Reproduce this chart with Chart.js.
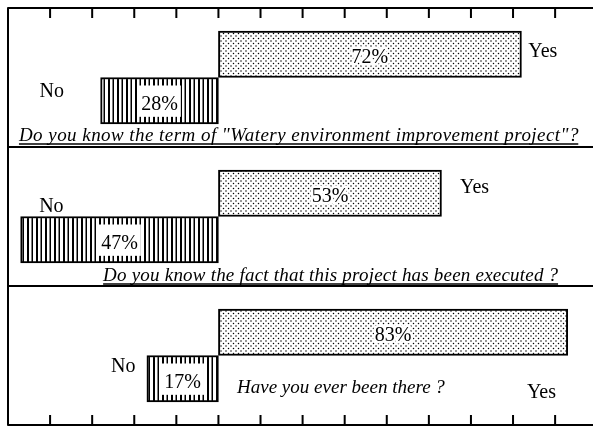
<!DOCTYPE html>
<html>
<head>
<meta charset="utf-8">
<script src="https://cdn.jsdelivr.net/npm/chart.js@4.4.1/dist/chart.umd.min.js"></script>
<style>
  html, body { margin: 0; padding: 0; background: #fff; }
  #wrap { width: 593px; height: 427px; }
</style>
</head>
<body>
<div id="wrap"><canvas id="chart"></canvas></div>
<script>
const questions = [
  'Do you know the term of "Watery environment improvement project"?',
  "Do you know the fact that this project has been executed ?",
  "Have you ever been there ?"
];
const yesValues = [72, 53, 83];
const noValues = [28, 47, 17];
const answerLabels = ["Yes", "No"];
const tickValues = [-40, -30, -20, -10, 0, 10, 20, 30, 40, 50, 60, 70, 80];

// every question uses three rows on the y scale: Yes, No, then the divider
const yesRows = questions.map((q, i) => i * 3 + 1);
const noRows = questions.map((q, i) => i * 3 + 2);

function dotPattern() {
  const c = document.createElement("canvas");
  c.width = 5;
  c.height = 5;
  const g = c.getContext("2d");
  g.fillStyle = "#fff";
  g.fillRect(0, 0, 5, 5);
  g.fillStyle = "#000";
  g.beginPath();
  g.arc(1, 1, 0.75, 0, Math.PI * 2);
  g.arc(3.5, 3.5, 0.75, 0, Math.PI * 2);
  g.fill();
  return g.createPattern(c, "repeat");
}

function stripePattern() {
  const c = document.createElement("canvas");
  c.width = 9;
  c.height = 4;
  const g = c.getContext("2d");
  g.fillStyle = "#fff";
  g.fillRect(0, 0, 9, 4);
  g.fillStyle = "#000";
  g.fillRect(0, 0, 2, 4);
  g.fillRect(4.5, 0, 1.5, 4);
  return g.createPattern(c, "repeat");
}

const serif = "'Liberation Serif', 'DejaVu Serif', serif";

// frame, inward ticks, answer words, percentages and questions
const surveyText = {
  id: "surveyText",
  afterDatasetsDraw(chart, args, opts) {
    const { ctx, chartArea: a, scales: { x, y } } = chart;
    ctx.save();

    // percentages inside the bars
    ctx.font = "20px " + serif;
    ctx.textAlign = "center";
    ctx.textBaseline = "middle";
    chart.data.datasets.forEach((ds, di) => {
      ds.data.forEach(p => {
        const px = x.getPixelForValue(p.x / 2);
        const py = y.getPixelForValue(p.y + 0.08);
        const txt = Math.abs(p.x) + "%";
        const w = ctx.measureText(txt).width;
        if (di === 1) {
          const top = y.getPixelForValue(p.y - 0.5) + 8;
          const bot = y.getPixelForValue(p.y + 0.5) - 7;
          ctx.fillStyle = "#fff";
          ctx.fillRect(px - w / 2 - 3, top, w + 6, bot - top);
        } else {
          ctx.strokeStyle = "#fff";
          ctx.lineWidth = 5;
          ctx.lineJoin = "round";
          ctx.strokeText(txt, px, py);
        }
        ctx.fillStyle = "#000";
        ctx.fillText(txt, px, py);
      });
    });

    // Yes / No words
    ctx.textBaseline = "alphabetic";
    ctx.textAlign = "left";
    ctx.fillStyle = "#000";
    opts.yesAt.forEach(p => {
      ctx.fillText(answerLabels[0], x.getPixelForValue(p[0]), y.getPixelForValue(p[1]));
    });
    opts.noAt.forEach(p => {
      ctx.fillText(answerLabels[1], x.getPixelForValue(p[0]), y.getPixelForValue(p[1]));
    });

    // questions, stretched between start and end like the print
    ctx.font = "italic 19px " + serif;
    questions.forEach((q, i) => {
      const s = opts.questionAt[i];
      const x0 = x.getPixelForValue(s[0]);
      const x1 = x.getPixelForValue(s[1]);
      const py = y.getPixelForValue(s[2]);
      ctx.letterSpacing = "0px";
      const w = ctx.measureText(q).width;
      ctx.letterSpacing = ((x1 - x0 - w) / (q.length - 1)).toFixed(2) + "px";
      ctx.fillText(q, x0, py);
      if (s[3]) {
        ctx.lineWidth = 1.5;
        ctx.strokeStyle = "#000";
        ctx.beginPath();
        ctx.moveTo(x0, py + 3);
        ctx.lineTo(x1, py + 3);
        ctx.stroke();
      }
    });
    ctx.letterSpacing = "0px";

    // frame, dividers and ticks
    ctx.strokeStyle = "#000";
    ctx.lineWidth = 2;
    ctx.beginPath();
    ctx.moveTo(a.right, a.top);
    ctx.lineTo(a.left, a.top);
    ctx.lineTo(a.left, a.bottom);
    ctx.lineTo(a.right, a.bottom);
    for (let i = 1; i < questions.length; i++) {
      const py = y.getPixelForValue(i * 3);
      ctx.moveTo(a.left, py);
      ctx.lineTo(a.right, py);
    }
    tickValues.forEach(v => {
      const px = x.getPixelForValue(v);
      ctx.moveTo(px, a.top);
      ctx.lineTo(px, a.top + 10);
      ctx.moveTo(px, a.bottom);
      ctx.lineTo(px, a.bottom - 10);
    });
    ctx.stroke();
    ctx.restore();
  }
};

const ctx = document.getElementById("chart").getContext("2d");

new Chart(ctx, {
  type: "bar",
  data: {
    datasets: [{
      label: answerLabels[0],
      data: yesValues.map((v, i) => ({ x: v, y: yesRows[i] })),
      backgroundColor: dotPattern(),
      borderColor: "#000",
      borderWidth: 2,
      borderSkipped: false
    }, {
      label: answerLabels[1],
      data: noValues.map((v, i) => ({ x: -v, y: noRows[i] })),
      backgroundColor: stripePattern(),
      borderColor: "#000",
      borderWidth: 2,
      borderSkipped: false
    }]
  },
  options: {
    indexAxis: "y",
    responsive: true,
    maintainAspectRatio: false,
    animation: false,
    layout: { padding: { left: 8, top: 8, right: 0, bottom: 2 } },
    datasets: { bar: { barPercentage: 1, categoryPercentage: 1 } },
    scales: {
      x: { type: "linear", min: -50, max: 89, stacked: true, display: false },
      y: { type: "linear", min: 0, max: 9, reverse: true, stacked: true, display: false,
           offset: false, ticks: { stepSize: 1 } }
    },
    plugins: {
      legend: { display: false },
      tooltip: { enabled: false },
      surveyText: {
        yesAt: [[73.6, 1.06], [57.4, 3.99], [73.3, 8.42]],
        noAt: [[-42.5, 1.92], [-42.6, 4.4], [-25.5, 7.86]],
        questionAt: [[-47.4, 85.5, 2.87, true], [-27.4, 80.7, 5.89, true], [4.4, 53.8, 8.31, false]]
      }
    }
  },
  plugins: [surveyText]
});
</script>
</body>
</html>
